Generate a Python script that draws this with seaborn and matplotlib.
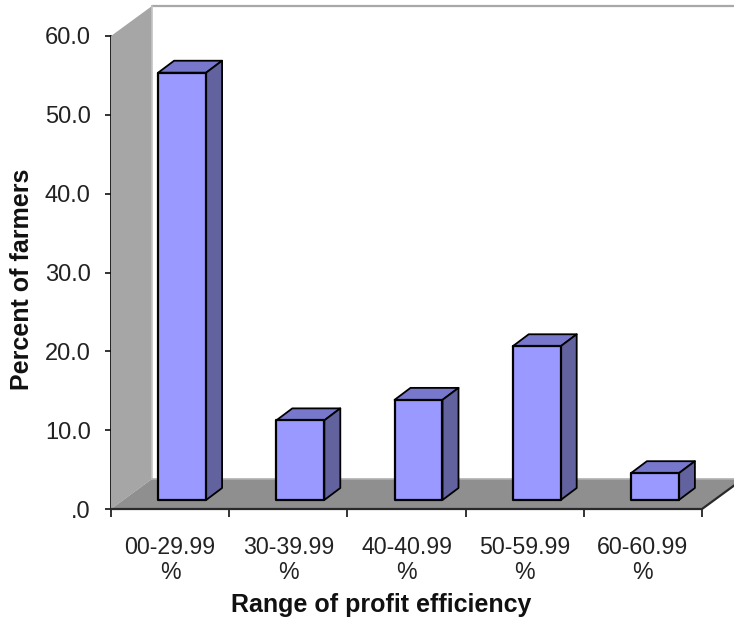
import matplotlib
matplotlib.use("Agg")
import matplotlib.pyplot as plt
import pandas as pd
import seaborn as sns
from matplotlib.patches import Polygon
from matplotlib.transforms import IdentityTransform

ranges = ["00-29.99\n%", "30-39.99\n%", "40-40.99\n%", "50-59.99\n%", "60-60.99\n%"]
percent_farmers = [54.2, 10.1, 12.7, 19.5, 3.4]
y_ticks = [0, 10, 20, 30, 40, 50, 60]
y_tick_labels = [".0", "10.0", "20.0", "30.0", "40.0", "50.0", "60.0"]

W, H = 734, 622
sns.set_theme(style="white")
plt.rcParams["font.family"] = ["Liberation Sans", "DejaVu Sans"]

fig = plt.figure(figsize=(W / 100, H / 100), dpi=100)
ax = fig.add_axes([111 / W, 1 - 509 / H, (702 - 111) / W, (509 - 36) / H])

data = pd.DataFrame({"range": ranges, "percent": percent_farmers})
sns.barplot(data=data, x="range", y="percent", order=ranges, width=0.406,
            color="#9999FF", saturation=1, edgecolor="black", linewidth=1.6,
            ax=ax, zorder=5)
ax.set_xlim(-0.5, 4.5)
ax.set_ylim(0, 60)


def px(x, y):
    return ax.transData.transform((x, y))


def face(points, color, edge="none", lw=0.0, z=1):
    fig.add_artist(Polygon(points, closed=True, facecolor=color, edgecolor=edge,
                           linewidth=lw, transform=IdentityTransform(),
                           zorder=z, joinstyle="round"))


# Chart box: side wall and floor, receding up and to the right
box_dx, box_dy = 41, 30
x0, base = px(-0.5, 0)
x1, top = px(4.5, 60)
back_x, back_base, back_top = x0 + box_dx, base + box_dy, top + box_dy
face([(x0, base), (back_x, back_base), (back_x, back_top), (x0, top)], "#A6A6A6", z=0.5)
face([(x0, base), (back_x, back_base), (x1 + box_dx, back_base), (x1, base)], "#8F8F8F", z=0.5)
fig.add_artist(plt.Line2D([back_x, W], [back_top, back_top], color="#A8A8A8", lw=1.6,
                          transform=IdentityTransform(), zorder=0.6))
fig.add_artist(plt.Line2D([back_x, back_x], [back_top, back_base], color="#C4C4C4", lw=1.2,
                          transform=IdentityTransform(), zorder=0.6))
fig.add_artist(plt.Line2D([back_x, W], [back_base, back_base], color="#B0B0B0", lw=1.2,
                          transform=IdentityTransform(), zorder=0.6))
fig.add_artist(plt.Line2D([x0, x1, x1 + box_dx], [base, base, back_base], color="#2A2A2A", lw=1.6,
                          transform=IdentityTransform(), zorder=0.7))

# Bars sit slightly behind the front plane, each with a top and a side face
ax.patch.set_visible(False)
bar_shift_x, bar_shift_y = 12 / (591 / 5), 9
bar_dx, bar_dy = 16, 12
bars = list(ax.patches)
for bar in bars:
    left = bar.get_x() + bar_shift_x
    right = left + bar.get_width()
    height = bar.get_height()
    lx, by = px(left, 0)
    rx, ty = px(right, height)
    by += bar_shift_y
    ty += bar_shift_y
    bar.set_visible(False)
    face([(lx, by), (rx, by), (rx, ty), (lx, ty)], "#9999FF", "black", 1.6, 3)
    face([(lx, ty), (rx, ty), (rx + bar_dx, ty + bar_dy), (lx + bar_dx, ty + bar_dy)],
         "#7777CC", "black", 1.3, 2)
    face([(rx, by), (rx + bar_dx, by + bar_dy), (rx + bar_dx, ty + bar_dy), (rx, ty)],
         "#62629F", "black", 1.3, 2)

# Axes
sns.despine(ax=ax, top=True, right=True)
for side in ("left", "bottom"):
    ax.spines[side].set_color("#111111")
    ax.spines[side].set_linewidth(1.3)
ax.set_yticks(y_ticks, y_tick_labels)
ax.set_xticks([i - 0.5 for i in range(6)], minor=True)
ax.tick_params(axis="x", which="major", length=0, pad=19.5, labelsize=16.7, labelcolor="#222222")
ax.tick_params(axis="x", which="minor", bottom=True, length=5.8, width=1.2, color="#111111")
ax.tick_params(axis="y", left=True, length=4.3, width=1.2, color="#111111", pad=10.3,
               labelsize=17, labelcolor="#222222")
for label in ax.get_xticklabels():
    label.set_linespacing(1.13)
ax.set_xlabel("")
ax.set_ylabel("")
fig.text(381 / W, 1 - 605 / H, "Range of profit efficiency", ha="center", va="center",
         fontsize=18, fontweight="bold", color="#111111")
fig.text(22 / W, 1 - 279 / H, "Percent of farmers", rotation=90, ha="center", va="center",
         fontsize=18, fontweight="bold", color="#111111")

fig.savefig("out.png", dpi=100)
